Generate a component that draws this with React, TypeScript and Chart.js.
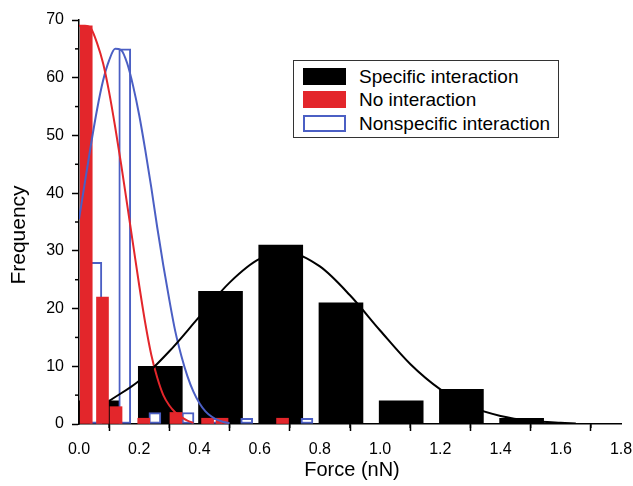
import React, { useEffect, useRef } from 'react';
import { Chart, registerables } from 'chart.js';

Chart.register(...registerables);

const FONT = '"Liberation Sans", Arial, Helvetica, sans-serif';

// ---- Histogram data (bin centre in nN, frequency) ----
const specificX = [0.07, 0.27, 0.47, 0.67, 0.87, 1.07, 1.27, 1.47];
const specificFreq = [4, 10, 23, 31, 21, 4, 6, 1];

const noX = [0.024, 0.078, 0.123, 0.215, 0.322, 0.427, 0.475, 0.676];
const noFreq = [69, 22, 3, 1, 2, 1, 1, 1];

const nonX = [0.056, 0.152, 0.252, 0.362, 0.455, 0.557, 0.757];
const nonFreq = [28, 65, 2, 2, 1, 1, 1];

// ---- Fitted curves ----
const specificFitX = [0.1, 0.2, 0.3, 0.4, 0.5, 0.6, 0.7, 0.8, 0.9, 1.0, 1.1, 1.2, 1.3, 1.4, 1.5, 1.6, 1.65];
const specificFitY = [4.0, 7.5, 12.6, 18.6, 24.5, 28.6, 29.6, 27.3, 22.3, 16.2, 10.4, 6.0, 3.0, 1.4, 0.55, 0.2, 0.1];

const noFitX = [0.0, 0.02, 0.04, 0.06, 0.08, 0.1, 0.12, 0.14, 0.16, 0.18, 0.2, 0.22, 0.24, 0.26, 0.28, 0.3, 0.32, 0.34, 0.36, 0.38];
const noFitY = [69, 69, 68.5, 66, 62.5, 57.5, 51.5, 45, 38, 31, 24, 17.5, 12, 8, 5, 3.2, 2, 1.2, 0.6, 0.2];

const nonFitX = [0.0, 0.02, 0.04, 0.06, 0.08, 0.1, 0.12, 0.14, 0.16, 0.18, 0.2, 0.22, 0.24, 0.26, 0.28, 0.3, 0.32, 0.34, 0.36, 0.38, 0.4, 0.42, 0.44, 0.46, 0.48, 0.5];
const nonFitY = [35.5, 42, 48.5, 54.5, 59.5, 63, 65, 64.8, 62.5, 58.5, 53.5, 47.5, 41, 34, 27.5, 21.5, 16, 11.8, 8.3, 5.6, 3.6, 2.2, 1.3, 0.7, 0.35, 0.15];

// ---- Axes ----
const xMinorTicks = [0.1, 0.3, 0.5, 0.7, 0.9, 1.1, 1.3, 1.5, 1.7];
const yMinorTicks = [5, 15, 25, 35, 45, 55, 65];
const xTitle = 'Force (nN)';
const yTitle = 'Frequency';
const seriesLabels = ['Specific interaction', 'No interaction', 'Nonspecific interaction'];

const BLACK = '#000000';
const RED = '#e3262b';
const BLUE = '#4b5fc4';

const pts = (xs: number[], ys: number[]) => xs.map((x, i) => ({ x, y: ys[i] }));

const extrasPlugin = {
  id: 'extras',
  afterDraw(chart: any) {
    const ctx = chart.ctx;
    const xs = chart.scales.x;
    const ys = chart.scales.y;
    ctx.save();
    ctx.strokeStyle = '#000';
    ctx.lineWidth = 1.5;
    for (const v of xMinorTicks) {
      const px = xs.getPixelForValue(v);
      ctx.beginPath();
      ctx.moveTo(px, ys.bottom);
      ctx.lineTo(px, ys.bottom + 4);
      ctx.stroke();
    }
    for (const v of yMinorTicks) {
      const py = ys.getPixelForValue(v);
      ctx.beginPath();
      ctx.moveTo(xs.left, py);
      ctx.lineTo(xs.left - 4, py);
      ctx.stroke();
    }
    ctx.fillStyle = '#000';
    ctx.font = `20px ${FONT}`;
    ctx.textAlign = 'center';
    ctx.textBaseline = 'middle';
    ctx.fillText(xTitle, (xs.left + xs.right) / 2 + 2, 470);
    ctx.font = `21px ${FONT}`;
    ctx.translate(19, 235);
    ctx.rotate(-Math.PI / 2);
    ctx.fillText(yTitle, 0, 0);
    ctx.restore();
  },
};

export default function App() {
  const ref = useRef<HTMLCanvasElement | null>(null);

  useEffect(() => {
    if (!ref.current) return;
    const chart = new Chart(ref.current, {
      type: 'bar',
      data: {
        datasets: [
          {
            type: 'line',
            label: 'fit-specific',
            data: pts(specificFitX, specificFitY),
            borderColor: BLACK,
            borderWidth: 2,
            pointRadius: 0,
            cubicInterpolationMode: 'monotone',
            fill: false,
            order: 0,
          } as any,
          {
            type: 'line',
            label: 'fit-no',
            data: pts(noFitX, noFitY),
            borderColor: RED,
            borderWidth: 2,
            pointRadius: 0,
            cubicInterpolationMode: 'monotone',
            fill: false,
            order: 0,
          } as any,
          {
            type: 'line',
            label: 'fit-non',
            data: pts(nonFitX, nonFitY),
            borderColor: BLUE,
            borderWidth: 2,
            pointRadius: 0,
            cubicInterpolationMode: 'monotone',
            fill: false,
            order: 0,
          } as any,
          {
            type: 'bar',
            label: seriesLabels[1],
            data: pts(noX, noFreq),
            backgroundColor: RED,
            borderWidth: 0,
            barThickness: 12,
            grouped: false,
            order: 1,
          } as any,
          {
            type: 'bar',
            label: seriesLabels[2],
            data: pts(nonX, nonFreq),
            backgroundColor: '#ffffff',
            borderColor: BLUE,
            borderWidth: 2,
            borderSkipped: false,
            barThickness: 12,
            grouped: false,
            order: 2,
          } as any,
          {
            type: 'bar',
            label: seriesLabels[0],
            data: pts(specificX, specificFreq),
            backgroundColor: BLACK,
            borderWidth: 0,
            barThickness: 44,
            grouped: false,
            order: 3,
          } as any,
        ],
      },
      options: {
        responsive: false,
        animation: false,
        layout: { padding: { left: 0, top: 20, right: 12, bottom: 0 } },
        plugins: { legend: { display: false }, tooltip: { enabled: false } },
        scales: {
          x: {
            type: 'linear',
            min: 0,
            max: 1.8,
            offset: false,
            grid: { drawOnChartArea: false, drawTicks: true, tickLength: 7, tickColor: '#000', tickWidth: 1.5 },
            border: { display: true, color: '#000', width: 1.5 },
            ticks: {
              stepSize: 0.2,
              padding: 9,
              color: '#000',
              font: { family: FONT, size: 16 },
              maxRotation: 0,
              autoSkip: false,
              callback: (v: any) => Number(v).toFixed(1),
            },
            afterFit(s: any) {
              s.height = 62;
              s.paddingLeft = 0;
              s.paddingRight = 0;
            },
          },
          y: {
            type: 'linear',
            min: 0,
            max: 70,
            grid: { drawOnChartArea: false, drawTicks: true, tickLength: 7, tickColor: '#000', tickWidth: 1.5 },
            border: { display: true, color: '#000', width: 1.5 },
            ticks: {
              stepSize: 10,
              padding: 8,
              color: '#000',
              font: { family: FONT, size: 16 },
            },
            afterFit(s: any) {
              s.width = 79;
              s.paddingTop = 0;
              s.paddingBottom = 0;
            },
          },
        },
      } as any,
      plugins: [extrasPlugin],
    });
    return () => chart.destroy();
  }, []);

  const swatches = [
    { bg: BLACK, border: 'none' },
    { bg: RED, border: 'none' },
    { bg: '#ffffff', border: `2px solid ${BLUE}` },
  ];

  return (
    <div style={{ position: 'absolute', left: 0, top: 0, width: 633, height: 486, background: '#fff' }}>
      <canvas ref={ref} width={633} height={486} style={{ display: 'block', width: 633, height: 486 }} />
      <div
        style={{
          position: 'absolute',
          left: 293,
          top: 60,
          width: 266,
          height: 78,
          border: '1.5px solid #333',
          boxSizing: 'border-box',
          background: '#fff',
        }}
      >
        {seriesLabels.map((lab, i) => (
          <div key={lab} style={{ position: 'absolute', left: 9, top: 7 + i * 23.4, height: 17, display: 'flex', alignItems: 'center' }}>
            <div
              style={{
                width: 43,
                height: 17,
                background: swatches[i].bg,
                border: swatches[i].border,
                boxSizing: 'border-box',
              }}
            />
            <span
              style={{
                marginLeft: 13,
                fontFamily: FONT,
                fontSize: 19,
                color: '#000',
                whiteSpace: 'nowrap',
                lineHeight: '17px',
              }}
            >
              {lab}
            </span>
          </div>
        ))}
      </div>
    </div>
  );
}
